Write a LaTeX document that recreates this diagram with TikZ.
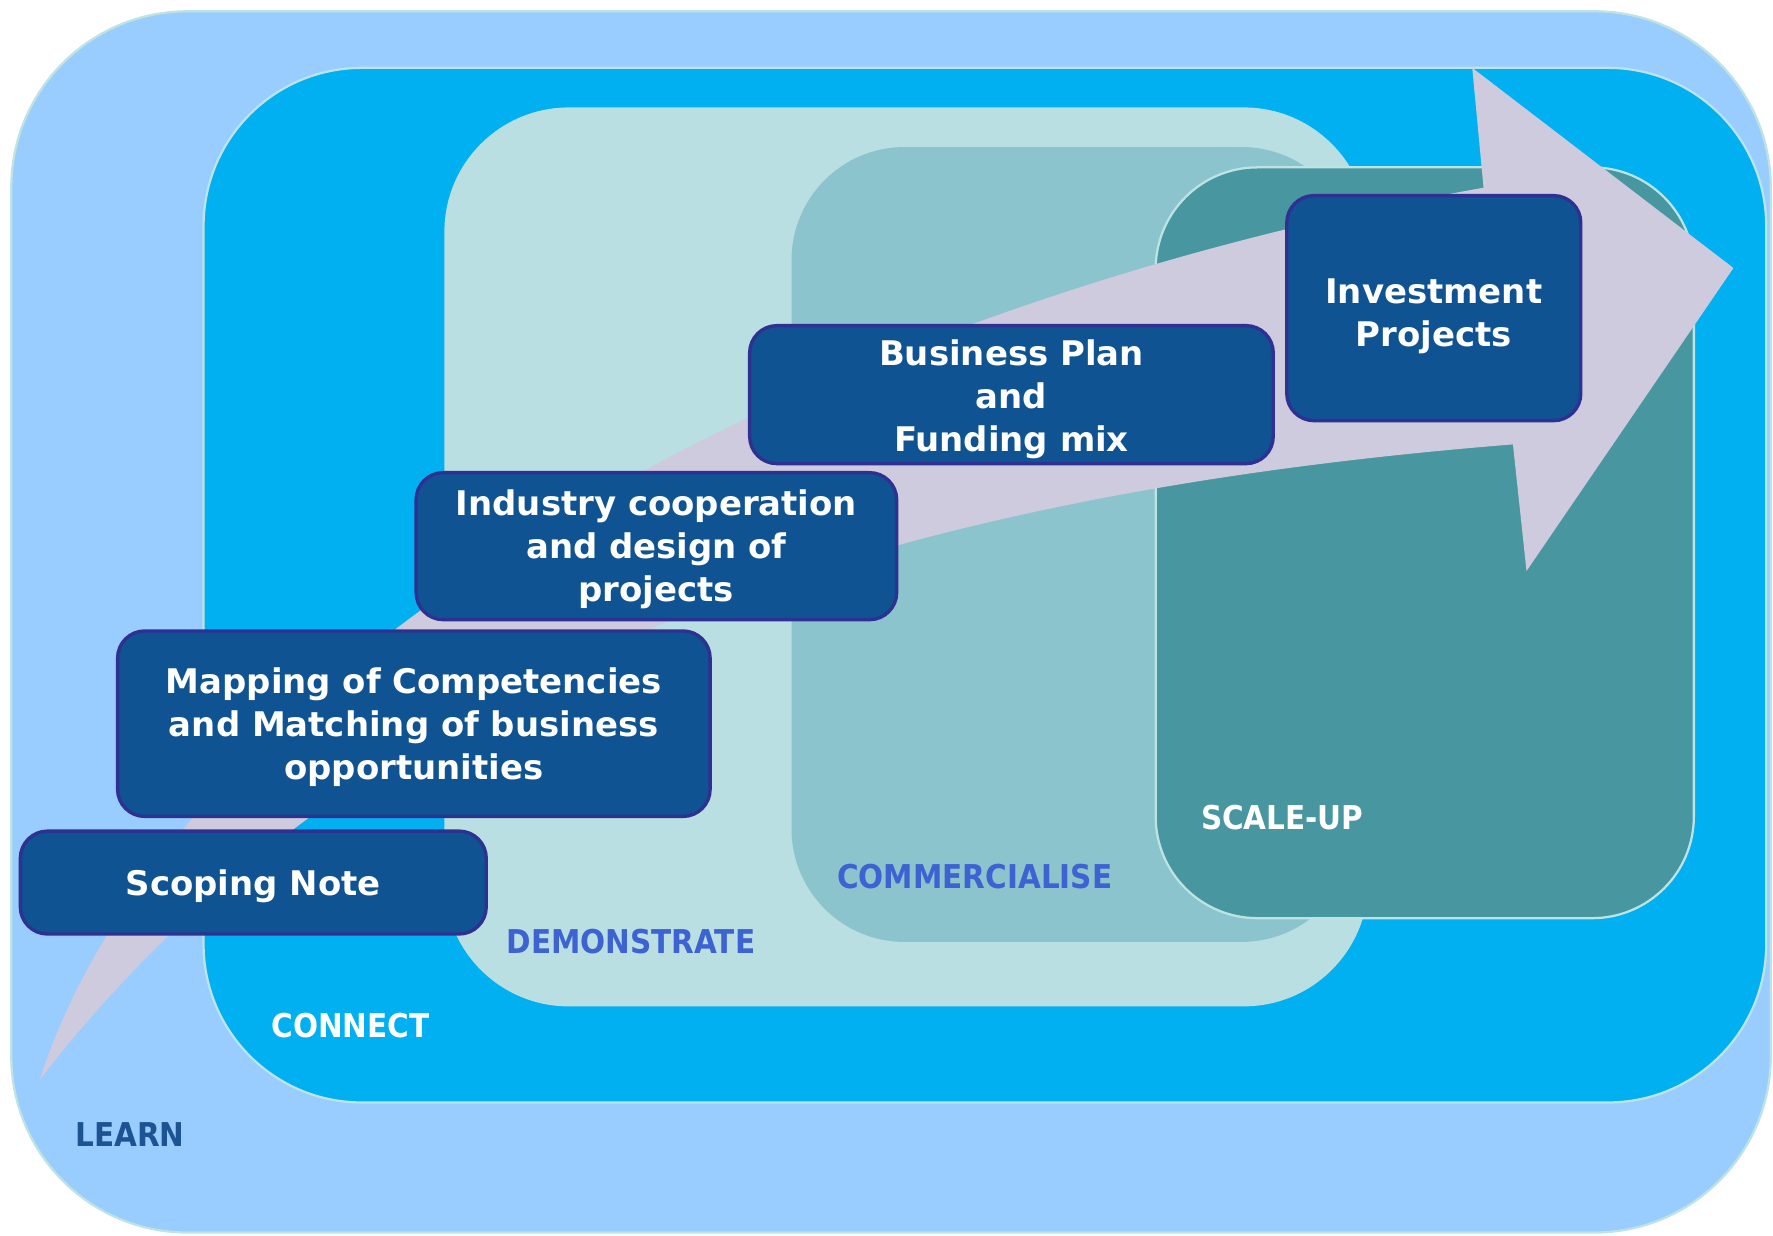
\documentclass[tikz,border=0pt]{standalone}
\usepackage{fontspec}
\setmainfont{DejaVu Sans}
\newfontfamily\condfont{DejaVu Sans Condensed}
\definecolor{learnfill}{HTML}{99CCFF}
\definecolor{connectfill}{HTML}{00B0F0}
\definecolor{demofill}{HTML}{B9DFE2}
\definecolor{commfill}{HTML}{8BC4CD}
\definecolor{scalefill}{HTML}{4897A0}
\definecolor{regionedge}{HTML}{BDE3E2}
\definecolor{arrowgrey}{HTML}{CDCBDD}
\definecolor{boxblue}{HTML}{0F5393}
\definecolor{boxedge}{HTML}{2E3192}
\definecolor{learntext}{HTML}{1B5393}
\definecolor{royaltext}{HTML}{3D62D2}
\begin{document}
\begin{tikzpicture}[x=0.5pt,y=-0.5pt,
  region/.style={draw=regionedge, line width=1pt},
  stepbox/.style={rectangle, rounded corners=12pt, fill=boxblue, draw=boxedge,
    line width=1.5pt, inner sep=0pt},
  steptext/.style={text=white, align=center, inner sep=0pt,
    font=\bfseries\fontsize{15}{19}\selectfont},
  stagelabel/.style={inner sep=0pt, font=\condfont\bfseries\fontsize{14.5}{17}\selectfont}]
\useasboundingbox (0,0) rectangle (1568,1093);
\fill[white] (0,0) rectangle (1568,1093);

% nested stage regions
\path[region, fill=learnfill, rounded corners=78pt] (10,10) rectangle (1566,1090);
\path[region, fill=connectfill, rounded corners=70pt] (180,60) rectangle (1562,975);
\path[fill=demofill, rounded corners=55pt] (393,95) rectangle (1210,890);
\path[fill=commfill, rounded corners=50pt] (700,130) rectangle (1198,833);
\path[region, fill=scalefill, rounded corners=45pt] (1022,148) rectangle (1498,812);

% the rising arrow behind the steps
\fill[arrowgrey] (35,955) .. controls (150,600) and (670,280) .. (1312,166)
  -- (1302,60) -- (1533,237) -- (1350,505) -- (1338,393)
  .. controls (838,433) and (340,560) .. (35,955) -- cycle;

% steps
\node[stepbox, minimum width=206pt, minimum height=45.5pt] (scoping) at (224,780.5) {};
\node[steptext] (scopingtext) at ([yshift=-1.5pt]scoping.center) {Scoping Note};
\node[stepbox, minimum width=262pt, minimum height=82pt] (mapping) at (366,640) {};
\node[steptext] (mappingtext) at ([yshift=-1.4pt]mapping.center) {Mapping of Competencies\\and Matching of business\\opportunities};
\node[stepbox, minimum width=212.5pt, minimum height=65pt] (industry) at (580.5,483) {};
\node[steptext] (industrytext) at ([yshift=-1.4pt]industry.center) {Industry cooperation\\and design of\\projects};
\node[stepbox, minimum width=231.5pt, minimum height=61pt] (business) at (894.5,349) {};
\node[steptext] (businesstext) at ([yshift=-2pt]business.center) {Business Plan\\and\\Funding mix};
\node[stepbox, minimum width=130pt, minimum height=99.5pt] (invest) at (1268,272.5) {};
\node[steptext] (investtext) at ([yshift=-3.5pt]invest.center) {Investment\\Projects};

% stage names
\node[stagelabel, text=learntext] (learn) at (115,1003) {LEARN};
\node[stagelabel, text=white] (connect) at (310,907) {CONNECT};
\node[stagelabel, text=royaltext] (demonstrate) at (558,833) {DEMONSTRATE};
\node[stagelabel, text=royaltext] (commercialise) at (862,775) {COMMERCIALISE};
\node[stagelabel, text=white] (scaleup) at (1134,723) {SCALE-UP};
\end{tikzpicture}
\end{document}
